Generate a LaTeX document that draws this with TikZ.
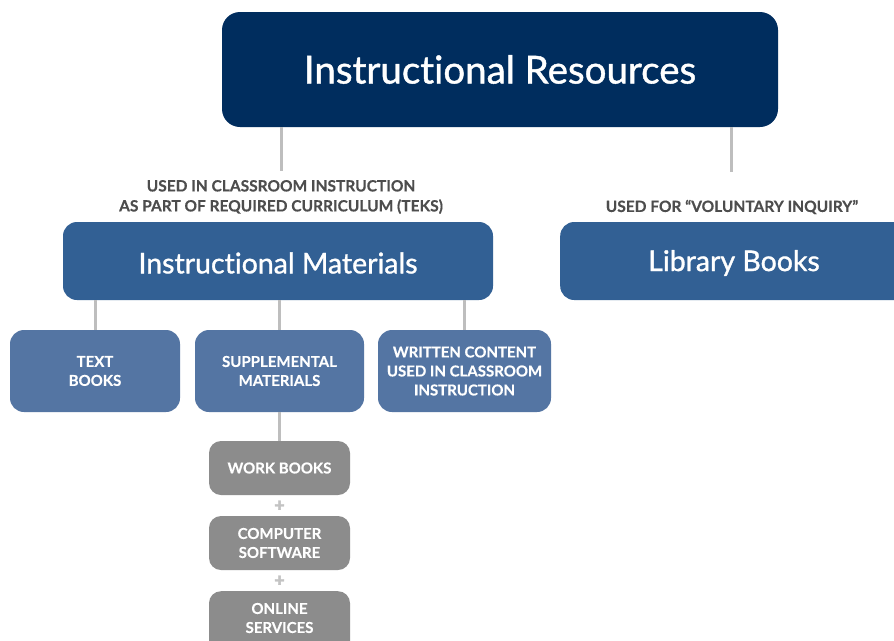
\documentclass[tikz,border=0pt]{standalone}
\usepackage{fontspec}
\setmainfont{Lato}[Ligatures=NoCommon, BoldFeatures={FakeBold=0.4}]
\newfontfamily\headfont{Lato}[Ligatures=NoCommon, FakeBold=1.1]
\newfontfamily\plusfont{Lato Black}[FakeBold=1.5]
\definecolor{navy}{RGB}{0,45,94}
\definecolor{midblue}{RGB}{50,96,148}
\definecolor{lightblue}{RGB}{84,117,163}
\definecolor{boxgray}{RGB}{140,140,140}
\definecolor{linegray}{RGB}{190,190,190}
\definecolor{plusgray}{RGB}{195,195,195}
\definecolor{labelgray}{RGB}{77,77,77}
\begin{document}
\begin{tikzpicture}[x=1pt,y=-1pt,
  base/.style={rounded corners=18pt, inner sep=0pt, text=white, align=center},
  topbox/.style={base, fill=navy, minimum width=556pt, minimum height=115pt, font=\headfont\fontsize{38.5}{42}\selectfont},
  midbox/.style={base, fill=midblue, minimum height=78pt, rounded corners=14pt},
  midtext/.style={text=white, inner sep=0pt, font=\headfont\fontsize{28.5}{32}\selectfont},
  smallbox/.style={base, fill=lightblue, minimum height=82pt, rounded corners=14pt, font=\bfseries\fontsize{15}{19}\selectfont},
  graybox/.style={base, fill=boxgray, minimum width=141pt, minimum height=54pt, rounded corners=12pt, font=\bfseries\fontsize{15}{19}\selectfont},
  conn/.style={draw=linegray, line width=3pt},
  lbl/.style={text=labelgray, align=center, inner sep=0pt, font=\bfseries\fontsize{15.5}{20}\selectfont},
  plus/.style={text=plusgray, inner sep=0pt, font=\plusfont\fontsize{18}{18}\selectfont}
]
\useasboundingbox (0,0) rectangle (894,640);
\clip (0,0) rectangle (894,640);
\fill[white] (0,0) rectangle (894,640);

\node[topbox] (res) at (500,69.5) {Instructional Resources};

\node[lbl] (lblA) at (281,197) {USED IN CLASSROOM INSTRUCTION\\AS PART OF REQUIRED CURRICULUM (TEKS)};
\node[lbl] (lblB) at (732,207) {USED FOR \textquotedblleft VOLUNTARY INQUIRY\textquotedblright};

\node[midbox, minimum width=430pt] (mat) at (278,261) {};
\node[midtext] (matt) at (278,263) {Instructional Materials};
\node[midbox, minimum width=360pt, anchor=west] (lib) at (560,261) {};
\node[midtext] (libt) at (734,263) {Library Books};

\coordinate (ca) at (281,171);
\coordinate (cb) at (731,172);
\draw[conn] (res.south -| ca) -- (ca);
\draw[conn] (res.south -| cb) -- (cb);

\node[smallbox, minimum width=170pt] (text) at (95,371) {TEXT\\BOOKS};
\node[smallbox, minimum width=169pt] (supp) at (279.5,371) {SUPPLEMENTAL\\MATERIALS};
\node[smallbox, minimum width=173pt] (writ) at (464.5,371) {WRITTEN CONTENT\\USED IN CLASSROOM\\INSTRUCTION};

\draw[conn] (mat.south -| text) -- (text.north);
\draw[conn] (mat.south -| supp) -- (supp.north);
\draw[conn] (mat.south -| writ) -- (writ.north);

\node[graybox] (work) at (279.5,468) {WORK BOOKS};
\node[graybox] (soft) at (279.5,543) {COMPUTER\\SOFTWARE};
\node[graybox, minimum height=70pt, anchor=north] (online) at (279.5,591) {};
\node[text=white, align=center, inner sep=0pt, font=\bfseries\fontsize{15}{19}\selectfont] (onlinet) at (279.5,618) {ONLINE\\SERVICES};

\draw[conn] (supp.south) -- (work.north);

\node[plus] (p1) at (279.5,506) {+};
\node[plus] (p2) at (279.5,581) {+};
\end{tikzpicture}
\end{document}
